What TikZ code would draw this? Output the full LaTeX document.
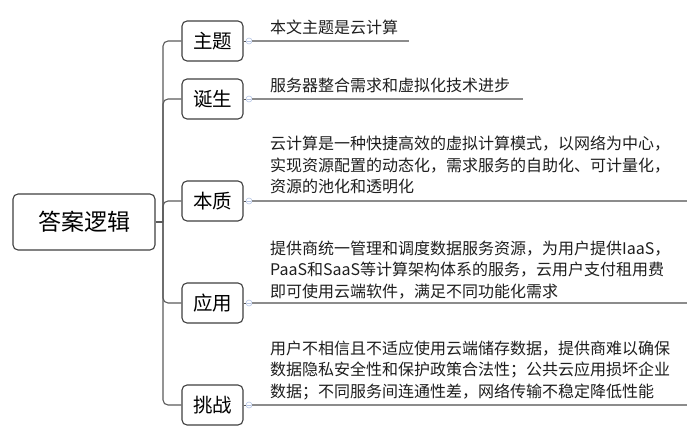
\documentclass[tikz,border=0pt]{standalone}
\usepackage{fontspec}
\setmainfont{Noto Sans CJK SC}
\begin{document}
\begin{tikzpicture}[x=1pt,y=-1pt,
  rootbox/.style={draw=boxline,line width=1.1pt,rounded corners=5pt,minimum width=142pt,minimum height=56pt,inner sep=0pt,font=\fontsize{23}{26}\selectfont},
  topicbox/.style={draw=boxline,line width=1.1pt,rounded corners=5pt,minimum width=61pt,minimum height=40pt,inner sep=0pt,font=\fontsize{19.5}{22}\selectfont},
  branch/.style={draw=trunkline,line width=1.1pt,rounded corners=5pt},
  knob/.style={circle,draw=knobblue,line width=0.6pt,minimum size=6pt,inner sep=0pt},
  rule/.style={draw=ruleline,line width=1.5pt},
  note/.style={anchor=base west,align=left,inner sep=0pt,text=notetext,font=\fontsize{16}{21.5}\selectfont}
]
\definecolor{boxline}{HTML}{3F3F3F}
\definecolor{trunkline}{HTML}{5A5A5A}
\definecolor{ruleline}{HTML}{8C8C8C}
\definecolor{knobblue}{HTML}{B4C4E4}
\definecolor{notetext}{HTML}{1E1E1E}
\useasboundingbox (0,0) rectangle (700,438);

% central node and the five topics
\node[rootbox] (root) at (84,222) {答案逻辑};
\node[topicbox] (k1) at (212.5,41) {主题};
\node[topicbox] (k2) at (212.5,99) {诞生};
\node[topicbox] (k3) at (212.5,201) {本质};
\node[topicbox] (k4) at (212.5,303) {应用};
\node[topicbox] (k5) at (212.5,405) {挑战};

% trunk
\coordinate (fork) at (163,222);
\draw[branch] (root.east) -- (fork);
\foreach \k in {k1,k2,k3,k4,k5}{
  \draw[branch] (fork) |- (\k.west);
}

% collapse knobs
\foreach \i/\y in {1/41,2/99,3/201,4/303,5/405}{
  \node[knob] (o\i) at (249,\y) {};
  \draw[knobblue,line width=0.5pt] ([xshift=-1.6pt]o\i.center) -- ([xshift=1.6pt]o\i.center);
  \draw[trunkline,line width=0.8pt] (k\i.east) -- (o\i.west);
}

% end points of the underlines
\coordinate (e1) at (409,41);
\coordinate (e2) at (523,99);
\coordinate (e3) at (687,201);
\coordinate (e4) at (687,303);
\coordinate (e5) at (687,405);
\foreach \i in {1,...,5}{
  \draw[rule] (o\i.east) -- (e\i);
}

% descriptions (placed by the baseline of their last line)
\node[note] (n1) at (270,34) {本文主题是云计算};
\node[note] (n2) at (270,92) {服务器整合需求和虚拟化技术进步};
\node[note] (n3) at (270,193) {云计算是一种快捷高效的虚拟计算模式，以网络为中心，\\实现资源配置的动态化，需求服务的自助化、可计量化，\\资源的池化和透明化};
\node[note] (n4) at (270,297) {提供商统一管理和调度数据服务资源，为用户提供IaaS，\\PaaS和SaaS等计算架构体系的服务，云用户支付租用费\\即可使用云端软件，满足不同功能化需求};
\node[note] (n5) at (270,397) {用户不相信且不适应使用云端储存数据，提供商难以确保\\数据隐私安全性和保护政策合法性；公共云应用损坏企业\\数据；不同服务间连通性差，网络传输不稳定降低性能};
\end{tikzpicture}
\end{document}
